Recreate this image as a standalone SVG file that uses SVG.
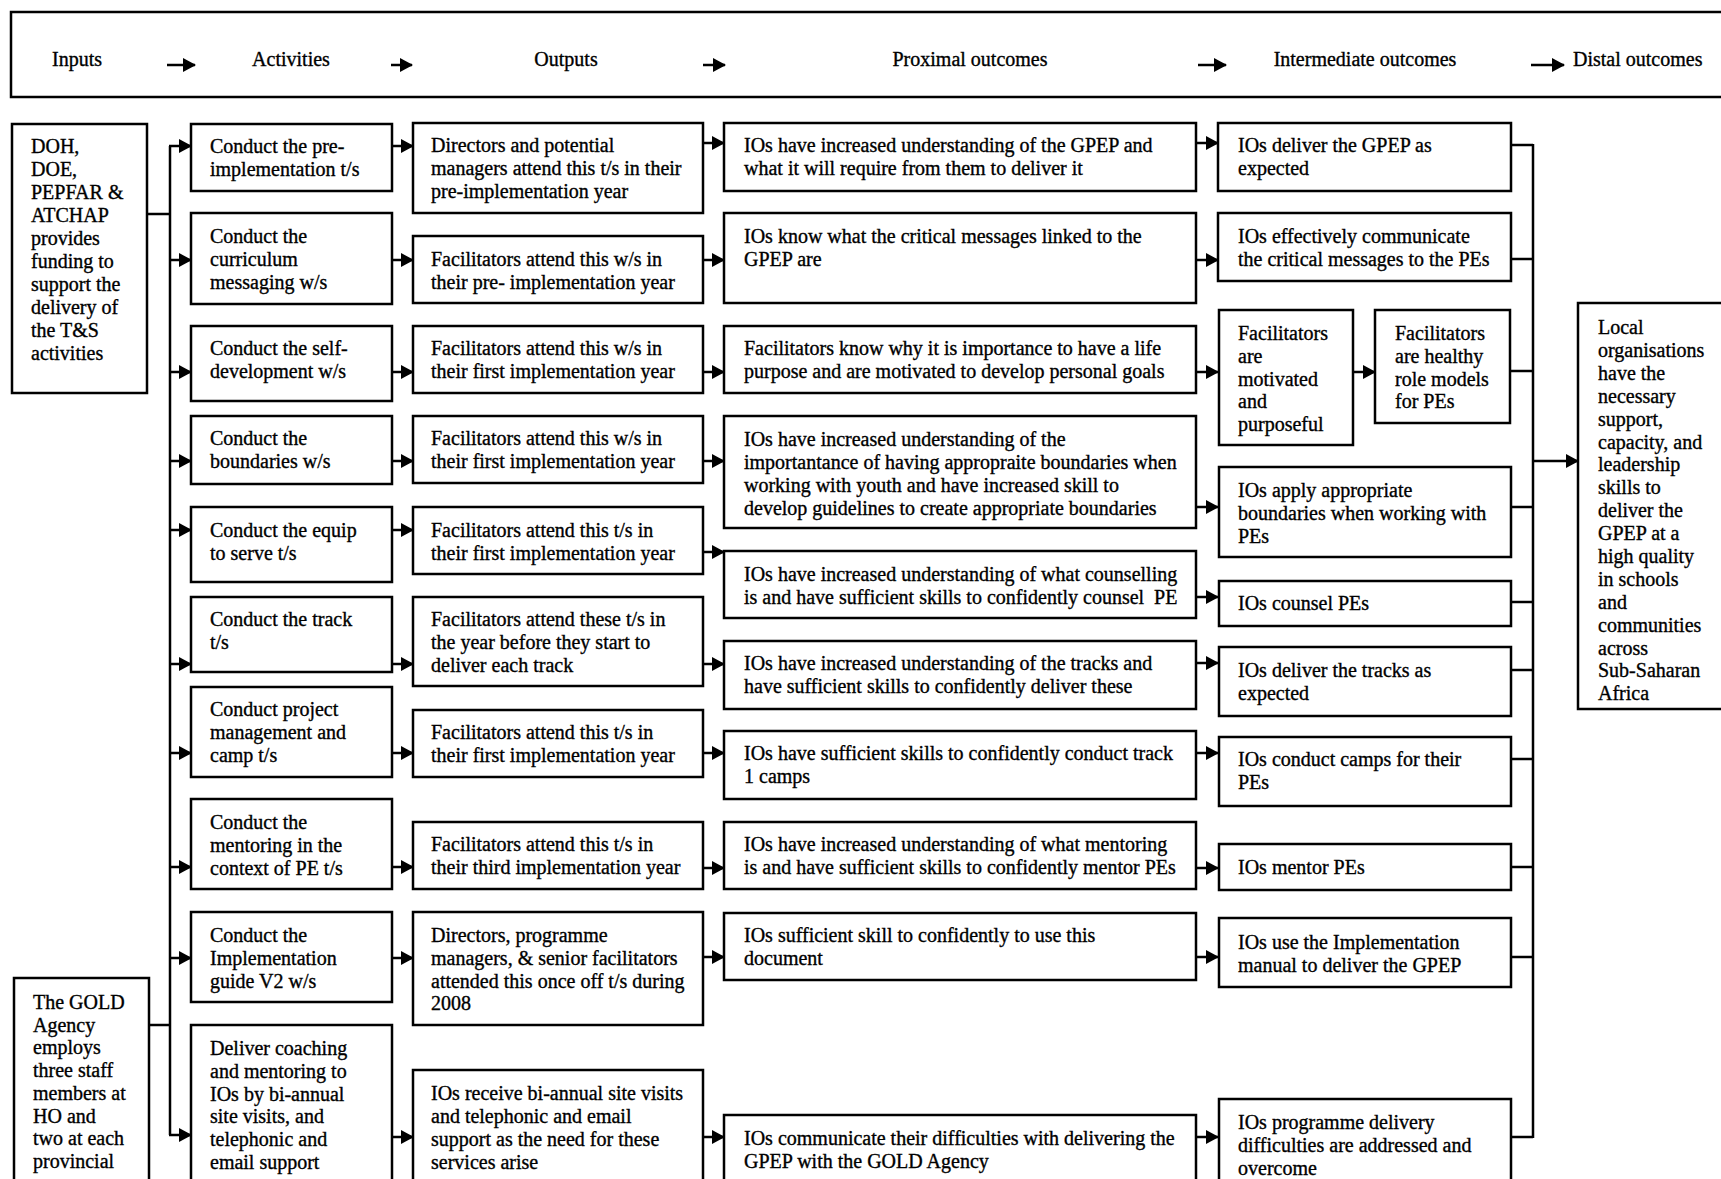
<svg xmlns="http://www.w3.org/2000/svg" width="1721" height="1179" viewBox="0 0 1721 1179">
<defs>
<style>
.box{fill:#fff;stroke:#000;stroke-width:2.5}
.t{font-family:"Liberation Serif","Times New Roman",serif;font-size:20px;fill:#000;stroke:#000;stroke-width:0.35}
.c{stroke:#000;stroke-width:2.5;fill:none}
.a{stroke:#000;stroke-width:2.5;fill:none;marker-end:url(#ah)}
</style>
<marker id="ah" viewBox="0 0 13 14" refX="12" refY="7" markerWidth="13" markerHeight="14" markerUnits="userSpaceOnUse" orient="auto">
<path d="M0,0 L13,7 L0,14 z" fill="#000"/>
</marker>
</defs>
<rect width="1721" height="1179" fill="#fff"/>

<g id="header">
<rect class="box" x="11" y="12" width="1720" height="85"/>
<text class="t" x="77" y="66" text-anchor="middle">Inputs</text>
<text class="t" x="291" y="66" text-anchor="middle">Activities</text>
<text class="t" x="566" y="66" text-anchor="middle">Outputs</text>
<text class="t" x="970" y="66" text-anchor="middle">Proximal outcomes</text>
<text class="t" x="1365" y="66" text-anchor="middle">Intermediate outcomes</text>
<text class="t" x="1573" y="66">Distal outcomes</text>
<path class="a" d="M167,65 H195"/>
<path class="a" d="M391,65 H412"/>
<path class="a" d="M703,65 H725"/>
<path class="a" d="M1198,65 H1226"/>
<path class="a" d="M1531,65 H1564"/>
</g>

<g id="connectors">
<path class="c" d="M147,214 H170"/>
<path class="c" d="M149,1025 H170"/>
<path class="c" d="M170,146 V1135"/>
<path class="a" d="M169,146 H191"/>
<path class="a" d="M170,260 H191"/>
<path class="a" d="M170,372 H191"/>
<path class="a" d="M170,461 H191"/>
<path class="a" d="M170,530 H191"/>
<path class="a" d="M170,664 H191"/>
<path class="a" d="M170,753 H191"/>
<path class="a" d="M170,867 H191"/>
<path class="a" d="M170,958 H191"/>
<path class="a" d="M169,1135 H191"/>

<path class="a" d="M392,146 H413"/>
<path class="a" d="M392,260 H413"/>
<path class="a" d="M392,372 H413"/>
<path class="a" d="M392,461 H413"/>
<path class="a" d="M392,530 H413"/>
<path class="a" d="M392,664 H413"/>
<path class="a" d="M392,753 H413"/>
<path class="a" d="M392,867 H413"/>
<path class="a" d="M392,958 H413"/>
<path class="a" d="M392,1137 H413"/>

<path class="a" d="M703,143 H724"/>
<path class="a" d="M703,260 H724"/>
<path class="a" d="M703,372 H724"/>
<path class="a" d="M703,461 H724"/>
<path class="a" d="M703,552 H724"/>
<path class="a" d="M703,664 H724"/>
<path class="a" d="M703,753 H724"/>
<path class="a" d="M703,868 H724"/>
<path class="a" d="M703,957 H724"/>
<path class="a" d="M703,1137 H724"/>

<path class="a" d="M1196,143 H1218"/>
<path class="a" d="M1196,260 H1218"/>
<path class="a" d="M1196,372 H1218"/>
<path class="a" d="M1196,507 H1218"/>
<path class="a" d="M1196,597 H1218"/>
<path class="a" d="M1196,663 H1218"/>
<path class="a" d="M1196,753 H1218"/>
<path class="a" d="M1196,868 H1218"/>
<path class="a" d="M1196,957 H1218"/>
<path class="a" d="M1196,1137 H1218"/>
<path class="a" d="M1353,372 H1375"/>

<path class="c" d="M1511,145 H1533"/>
<path class="c" d="M1511,259 H1533"/>
<path class="c" d="M1511,371 H1533"/>
<path class="c" d="M1511,507 H1533"/>
<path class="c" d="M1511,602 H1533"/>
<path class="c" d="M1511,670 H1533"/>
<path class="c" d="M1511,759 H1533"/>
<path class="c" d="M1511,867 H1533"/>
<path class="c" d="M1511,957 H1533"/>
<path class="c" d="M1511,1137 H1533"/>
<path class="c" d="M1533,144 V1138"/>
<path class="a" d="M1533,461 H1578"/>
</g>

<g id="input-funders">
<rect class="box" x="12" y="124" width="135" height="269"/>
<text class="t" x="31" y="153"><tspan x="31">DOH,</tspan><tspan x="31" dy="23">DOE,</tspan><tspan x="31" dy="23">PEPFAR &amp;</tspan><tspan x="31" dy="23">ATCHAP</tspan><tspan x="31" dy="23">provides</tspan><tspan x="31" dy="23">funding to</tspan><tspan x="31" dy="23">support the</tspan><tspan x="31" dy="23">delivery of</tspan><tspan x="31" dy="23">the T&amp;S</tspan><tspan x="31" dy="23">activities</tspan></text>
</g>
<g id="input-gold">
<rect class="box" x="14" y="978" width="135" height="220"/>
<text class="t" x="33" y="1009"><tspan x="33">The GOLD</tspan><tspan x="33" dy="22.7">Agency</tspan><tspan x="33" dy="22.7">employs</tspan><tspan x="33" dy="22.7">three staff</tspan><tspan x="33" dy="22.7">members at</tspan><tspan x="33" dy="22.7">HO and</tspan><tspan x="33" dy="22.7">two at each</tspan><tspan x="33" dy="22.7">provincial</tspan></text>
</g>

<g id="act1"><rect class="box" x="191" y="124" width="201" height="67"/>
<text class="t" y="153"><tspan x="210">Conduct the pre-</tspan><tspan x="210" dy="23">implementation t/s</tspan></text></g>
<g id="act2"><rect class="box" x="191" y="213" width="201" height="91"/>
<text class="t" y="243"><tspan x="210">Conduct the</tspan><tspan x="210" dy="23">curriculum</tspan><tspan x="210" dy="23">messaging w/s</tspan></text></g>
<g id="act3"><rect class="box" x="191" y="326" width="201" height="75"/>
<text class="t" y="355"><tspan x="210">Conduct the self-</tspan><tspan x="210" dy="23">development w/s</tspan></text></g>
<g id="act4"><rect class="box" x="191" y="416" width="201" height="68"/>
<text class="t" y="445"><tspan x="210">Conduct the</tspan><tspan x="210" dy="23">boundaries w/s</tspan></text></g>
<g id="act5"><rect class="box" x="191" y="507" width="201" height="75"/>
<text class="t" y="537"><tspan x="210">Conduct the equip</tspan><tspan x="210" dy="23">to serve t/s</tspan></text></g>
<g id="act6"><rect class="box" x="191" y="597" width="201" height="75"/>
<text class="t" y="626"><tspan x="210">Conduct the track</tspan><tspan x="210" dy="23">t/s</tspan></text></g>
<g id="act7"><rect class="box" x="191" y="687" width="201" height="90"/>
<text class="t" y="716"><tspan x="210">Conduct project</tspan><tspan x="210" dy="23">management and</tspan><tspan x="210" dy="23">camp t/s</tspan></text></g>
<g id="act8"><rect class="box" x="191" y="799" width="201" height="90"/>
<text class="t" y="829"><tspan x="210">Conduct the</tspan><tspan x="210" dy="23">mentoring in the</tspan><tspan x="210" dy="23">context of PE t/s</tspan></text></g>
<g id="act9"><rect class="box" x="191" y="912" width="201" height="90"/>
<text class="t" y="942"><tspan x="210">Conduct the</tspan><tspan x="210" dy="23">Implementation</tspan><tspan x="210" dy="23">guide V2 w/s</tspan></text></g>
<g id="act10"><rect class="box" x="191" y="1025" width="201" height="180"/>
<text class="t" y="1055"><tspan x="210">Deliver coaching</tspan><tspan x="210" dy="22.8">and mentoring to</tspan><tspan x="210" dy="22.8">IOs by bi-annual</tspan><tspan x="210" dy="22.8">site visits, and</tspan><tspan x="210" dy="22.8">telephonic and</tspan><tspan x="210" dy="22.8">email support</tspan></text></g>

<g id="out1"><rect class="box" x="413" y="123" width="290" height="90"/>
<text class="t" y="152"><tspan x="431">Directors and potential</tspan><tspan x="431" dy="23">managers attend this t/s in their</tspan><tspan x="431" dy="23">pre-implementation year</tspan></text></g>
<g id="out2"><rect class="box" x="413" y="236" width="290" height="67"/>
<text class="t" y="266"><tspan x="431">Facilitators attend this w/s in</tspan><tspan x="431" dy="23">their pre- implementation year</tspan></text></g>
<g id="out3"><rect class="box" x="413" y="326" width="290" height="67"/>
<text class="t" y="355"><tspan x="431">Facilitators attend this w/s in</tspan><tspan x="431" dy="23">their first implementation year</tspan></text></g>
<g id="out4"><rect class="box" x="413" y="416" width="290" height="67"/>
<text class="t" y="445"><tspan x="431">Facilitators attend this w/s in</tspan><tspan x="431" dy="23">their first implementation year</tspan></text></g>
<g id="out5"><rect class="box" x="413" y="507" width="290" height="67"/>
<text class="t" y="537"><tspan x="431">Facilitators attend this t/s in</tspan><tspan x="431" dy="23">their first implementation year</tspan></text></g>
<g id="out6"><rect class="box" x="413" y="597" width="290" height="89"/>
<text class="t" y="626"><tspan x="431">Facilitators attend these t/s in</tspan><tspan x="431" dy="23">the year before they start to</tspan><tspan x="431" dy="23">deliver each track</tspan></text></g>
<g id="out7"><rect class="box" x="413" y="710" width="290" height="67"/>
<text class="t" y="739"><tspan x="431">Facilitators attend this t/s in</tspan><tspan x="431" dy="23">their first implementation year</tspan></text></g>
<g id="out8"><rect class="box" x="413" y="822" width="290" height="67"/>
<text class="t" y="851"><tspan x="431">Facilitators attend this t/s in</tspan><tspan x="431" dy="23">their third implementation year</tspan></text></g>
<g id="out9"><rect class="box" x="413" y="912" width="290" height="113"/>
<text class="t" y="942"><tspan x="431">Directors, programme</tspan><tspan x="431" dy="23">managers, &amp; senior facilitators</tspan><tspan x="431" dy="23">attended this once off t/s during</tspan><tspan x="431" dy="22">2008</tspan></text></g>
<g id="out10"><rect class="box" x="413" y="1070" width="290" height="140"/>
<text class="t" y="1100"><tspan x="431">IOs receive bi-annual site visits</tspan><tspan x="431" dy="23">and telephonic and email</tspan><tspan x="431" dy="23">support as the need for these</tspan><tspan x="431" dy="23">services arise</tspan></text></g>

<g id="prox1"><rect class="box" x="724" y="123" width="472" height="68"/>
<text class="t" y="152"><tspan x="744">IOs have increased understanding of the GPEP and</tspan><tspan x="744" dy="23">what it will require from them to deliver it</tspan></text></g>
<g id="prox2"><rect class="box" x="724" y="213" width="472" height="90"/>
<text class="t" y="243"><tspan x="744">IOs know what the critical messages linked to the</tspan><tspan x="744" dy="23">GPEP are</tspan></text></g>
<g id="prox3"><rect class="box" x="724" y="326" width="472" height="67"/>
<text class="t" y="355"><tspan x="744">Facilitators know why it is importance to have a life</tspan><tspan x="744" dy="23">purpose and are motivated to develop personal goals</tspan></text></g>
<g id="prox4"><rect class="box" x="724" y="416" width="472" height="112"/>
<text class="t" y="446"><tspan x="744">IOs have increased understanding of the</tspan><tspan x="744" dy="23">importantance of having appropraite boundaries when</tspan><tspan x="744" dy="23">working with youth and have increased skill to</tspan><tspan x="744" dy="23">develop guidelines to create appropriate boundaries</tspan></text></g>
<g id="prox5"><rect class="box" x="724" y="551" width="472" height="67"/>
<text class="t" y="581" xml:space="preserve"><tspan x="744">IOs have increased understanding of what counselling</tspan><tspan x="744" dy="23">is and have sufficient skills to confidently counsel  PE</tspan></text></g>
<g id="prox6"><rect class="box" x="724" y="641" width="472" height="68"/>
<text class="t" y="670"><tspan x="744">IOs have increased understanding of the tracks and</tspan><tspan x="744" dy="23">have sufficient skills to confidently deliver these</tspan></text></g>
<g id="prox7"><rect class="box" x="724" y="731" width="472" height="68"/>
<text class="t" y="760"><tspan x="744">IOs have sufficient skills to confidently conduct track</tspan><tspan x="744" dy="23">1 camps</tspan></text></g>
<g id="prox8"><rect class="box" x="724" y="822" width="472" height="67"/>
<text class="t" y="851"><tspan x="744">IOs have increased understanding of what mentoring</tspan><tspan x="744" dy="23">is and have sufficient skills to confidently mentor PEs</tspan></text></g>
<g id="prox9"><rect class="box" x="724" y="913" width="472" height="67"/>
<text class="t" y="942"><tspan x="744">IOs sufficient skill to confidently to use this</tspan><tspan x="744" dy="23">document</tspan></text></g>
<g id="prox10"><rect class="box" x="724" y="1115" width="472" height="90"/>
<text class="t" y="1145"><tspan x="744">IOs communicate their difficulties with delivering the</tspan><tspan x="744" dy="23">GPEP with the GOLD Agency</tspan></text></g>

<g id="int1"><rect class="box" x="1218" y="123" width="293" height="68"/>
<text class="t" y="152"><tspan x="1238">IOs deliver the GPEP as</tspan><tspan x="1238" dy="23">expected</tspan></text></g>
<g id="int2"><rect class="box" x="1218" y="213" width="293" height="68"/>
<text class="t" y="243"><tspan x="1238">IOs effectively communicate</tspan><tspan x="1238" dy="23">the critical messages to the PEs</tspan></text></g>
<g id="int3a"><rect class="box" x="1219" y="310" width="134" height="135"/>
<text class="t" y="340"><tspan x="1238">Facilitators</tspan><tspan x="1238" dy="22.8">are</tspan><tspan x="1238" dy="22.8">motivated</tspan><tspan x="1238" dy="22.8">and</tspan><tspan x="1238" dy="22.8">purposeful</tspan></text></g>
<g id="int3b"><rect class="box" x="1375" y="310" width="135" height="113"/>
<text class="t" y="340"><tspan x="1395">Facilitators</tspan><tspan x="1395" dy="22.8">are healthy</tspan><tspan x="1395" dy="22.8">role models</tspan><tspan x="1395" dy="22.8">for PEs</tspan></text></g>
<g id="int4"><rect class="box" x="1219" y="467" width="292" height="90"/>
<text class="t" y="497"><tspan x="1238">IOs apply appropriate</tspan><tspan x="1238" dy="23">boundaries when working with</tspan><tspan x="1238" dy="23">PEs</tspan></text></g>
<g id="int5"><rect class="box" x="1219" y="581" width="292" height="45"/>
<text class="t" x="1238" y="610">IOs counsel PEs</text></g>
<g id="int6"><rect class="box" x="1219" y="647" width="292" height="69"/>
<text class="t" y="677"><tspan x="1238">IOs deliver the tracks as</tspan><tspan x="1238" dy="23">expected</tspan></text></g>
<g id="int7"><rect class="box" x="1219" y="737" width="292" height="69"/>
<text class="t" y="766"><tspan x="1238">IOs conduct camps for their</tspan><tspan x="1238" dy="23">PEs</tspan></text></g>
<g id="int8"><rect class="box" x="1219" y="844" width="292" height="46"/>
<text class="t" x="1238" y="874">IOs mentor PEs</text></g>
<g id="int9"><rect class="box" x="1219" y="918" width="292" height="69"/>
<text class="t" y="949"><tspan x="1238">IOs use the Implementation</tspan><tspan x="1238" dy="23">manual to deliver the GPEP</tspan></text></g>
<g id="int10"><rect class="box" x="1219" y="1099" width="292" height="110"/>
<text class="t" y="1129"><tspan x="1238">IOs programme delivery</tspan><tspan x="1238" dy="23">difficulties are addressed and</tspan><tspan x="1238" dy="23">overcome</tspan></text></g>

<g id="distal"><rect class="box" x="1578" y="303" width="160" height="406"/>
<text class="t" y="334"><tspan x="1598">Local</tspan><tspan x="1598" dy="22.9">organisations</tspan><tspan x="1598" dy="22.9">have the</tspan><tspan x="1598" dy="22.9">necessary</tspan><tspan x="1598" dy="22.9">support,</tspan><tspan x="1598" dy="22.9">capacity, and</tspan><tspan x="1598" dy="22.9">leadership</tspan><tspan x="1598" dy="22.9">skills to</tspan><tspan x="1598" dy="22.9">deliver the</tspan><tspan x="1598" dy="22.9">GPEP at a</tspan><tspan x="1598" dy="22.9">high quality</tspan><tspan x="1598" dy="22.9">in schools</tspan><tspan x="1598" dy="22.9">and</tspan><tspan x="1598" dy="22.9">communities</tspan><tspan x="1598" dy="22.9">across</tspan><tspan x="1598" dy="22.9">Sub-Saharan</tspan><tspan x="1598" dy="22.9">Africa</tspan></text></g>
</svg>
